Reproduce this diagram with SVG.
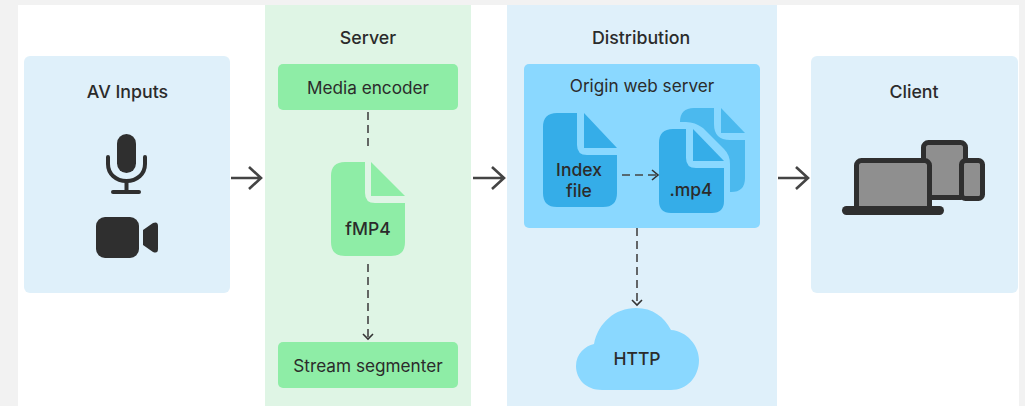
<svg xmlns="http://www.w3.org/2000/svg" width="1025" height="406" viewBox="0 0 1025 406">
<style>
text{font-family:Inter,"Liberation Sans",sans-serif;fill:#2b2b2b;text-anchor:middle}
.t{font-size:17.800px;font-weight:500}
.l{font-size:17.200px;font-weight:400}
.b{font-size:17.500px;font-weight:500}
.d{fill:none;stroke:#444;stroke-width:1.6;stroke-dasharray:8 5}
.a{fill:none;stroke:#444;stroke-width:2.6}
.h{fill:none;stroke:#333;stroke-width:1.6}
.k{fill:#2f2f2f}
.s{fill:#8f8f8f;stroke:#2f2f2f;stroke-width:5}
</style>
<rect width="1025" height="406" fill="#f2f2f2"/>
<rect x="18" y="5" width="1001" height="401" fill="#fff"/>
<g id="av-inputs">
<rect x="24" y="56" width="206" height="237" rx="6" fill="#dff0fa"/>
<text class="t" x="127.500" y="98">AV Inputs</text>
<rect class="k" x="117" y="134" width="19" height="39" rx="9.500"/>
<path d="M108 157V164C108 174 116 181 126.500 181S145 174 145 164V157" fill="none" stroke="#2f2f2f" stroke-width="4" stroke-linecap="round"/>
<rect class="k" x="124.500" y="181" width="4" height="10"/>
<rect class="k" x="111" y="190" width="30" height="4" rx="2"/>
<rect class="k" x="96" y="217" width="43" height="41" rx="9"/>
<path class="k" d="M143 230L153 223Q158 221 158 226V249Q158 254 153 252L143 245Z"/>
</g>
<g id="server">
<rect x="265" y="5" width="206" height="401" fill="#dff5e5"/>
<text class="t" x="368" y="44">Server</text>
</g>
<g id="media-encoder">
<rect x="278" y="64" width="180" height="46" rx="5" fill="#8eeda6"/>
<text class="l" x="368" y="94">Media encoder</text>
</g>
<g id="fmp4">
<path d="M345 162H365V193Q365 203 375 203H405V242Q405 256 391 256H345Q331 256 331 242V176Q331 162 345 162Z" fill="#8eeda6"/>
<path d="M371 162L405 196H371Z" fill="#8eeda6"/>
<text class="b" x="368" y="235">fMP4</text>
</g>
<g id="stream-segmenter">
<rect x="278" y="342" width="180" height="46" rx="5" fill="#8eeda6"/>
<text class="l" x="368" y="372">Stream segmenter</text>
</g>
<g id="distribution">
<rect x="507" y="5" width="270" height="401" fill="#dff0fa"/>
<text class="t" x="641" y="44">Distribution</text>
</g>
<g id="origin-web-server">
<rect x="524" y="64" width="236" height="164" rx="5" fill="#8ad8ff"/>
<text class="l" x="642" y="92">Origin web server</text>
</g>
<g id="index-file">
<path d="M557 113H577V145Q577 155 587 155H617V193Q617 207 603 207H557Q543 207 543 193V127Q543 113 557 113Z" fill="#35ade8"/>
<path d="M584 113L617 148H584Z" fill="#35ade8"/>
<text class="b" x="579" y="176">Index</text>
<text class="b" x="579" y="197">file</text>
</g>
<g id="mp4">
<path d="M680 122Q680 108 694 108H714V124Q714 140 730 140H745V178Q745 192 731 192H730V164Q730 155 724 149L703 128Q695 122 686 122Z" fill="#4bb9ee"/>
<path d="M721 108L745 133H721Z" fill="#4bb9ee"/>
<path d="M673 129H686V158Q686 168 696 168H724V201Q724 213 712 213H671Q659 213 659 201V143Q659 129 673 129Z" fill="#35ade8"/>
<path d="M693 129L724 161H693Z" fill="#35ade8"/>
<text class="b" x="691" y="196">.mp4</text>
</g>
<g id="http">
<path d="M602 390C586 390 576 379 576 366C576 354 585 346 594 344C598 323 615 308 636 308C653 308 664 317 671 330C687 331 699 346 699 360C699 377 687 390 671 390Z" fill="#8ad8ff"/>
<text class="b" x="637" y="365">HTTP</text>
</g>
<g id="client">
<rect x="811" y="56" width="207" height="237" rx="6" fill="#dff0fa"/>
<text class="t" x="914" y="98">Client</text>
<rect class="s" x="923.500" y="142.500" width="42" height="55" rx="5"/>
<rect class="s" x="961.500" y="160.500" width="21" height="38" rx="4"/>
<rect class="s" x="856.500" y="160.500" width="73" height="50" rx="5"/>
<rect class="k" x="842" y="206" width="102" height="9" rx="4.500"/>
</g>
<g id="connectors">
<path class="a" d="M231 178H261M249 167L261 178L249 189"/>
<path class="a" d="M473 178H504M492 167L504 178L492 189"/>
<path class="a" d="M778 178H808M796 167L808 178L796 189"/>
<path class="d" d="M368 112V149"/>
<path class="d" d="M368 264V337"/>
<path class="h" d="M363 334L368 339L373 334"/>
<path class="d" d="M622 175H657"/>
<path class="h" d="M652 170L658 175L652 180"/>
<path class="d" d="M637 228V304"/>
<path class="h" d="M632 300L637 305L642 300"/>
</g>
</svg>
